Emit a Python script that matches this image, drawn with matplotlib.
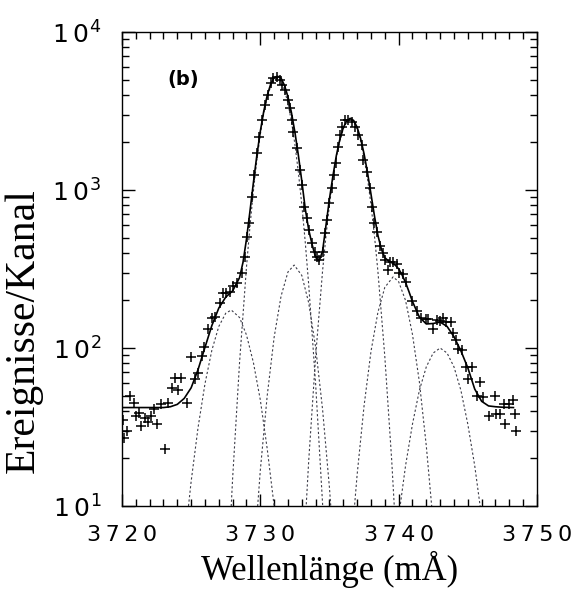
import matplotlib

matplotlib.use("Agg")
import matplotlib.pyplot as plt
import numpy as np
from matplotlib.ticker import FuncFormatter, MultipleLocator, NullFormatter

# --- Messpunkte (+) ---
x_data = [3720.05, 3720.15, 3720.35, 3720.6, 3720.9, 3721.05, 3721.2, 3721.4, 3721.65,
          3721.9, 3722.1, 3722.3, 3722.55, 3722.85, 3723.1, 3723.35, 3723.6, 3723.8,
          3724.05, 3724.3, 3724.7, 3725.0, 3725.3, 3725.5, 3725.75, 3725.95, 3726.25,
          3726.5, 3726.7, 3727.1, 3727.3, 3727.55, 3727.8, 3728.0, 3728.3, 3728.65,
          3728.89, 3729.06, 3729.2, 3729.38, 3729.54, 3729.74, 3729.93, 3730.14, 3730.34,
          3730.53, 3730.75, 3730.94, 3731.18, 3731.42, 3731.6, 3731.78, 3732.02, 3732.15,
          3732.27, 3732.38, 3732.63, 3732.87, 3733.0, 3733.16, 3733.35, 3733.52, 3733.71,
          3733.95, 3734.1, 3734.26, 3734.5, 3734.67, 3734.8, 3734.99, 3735.16, 3735.33,
          3735.47, 3735.6, 3735.76, 3735.93, 3736.12, 3736.36, 3736.6, 3736.84, 3737.08,
          3737.33, 3737.45, 3737.69, 3737.93, 3738.05, 3738.2, 3738.41, 3738.65, 3738.85,
          3739.0, 3739.25, 3739.38, 3739.6, 3739.86, 3740.05, 3740.3, 3740.55, 3740.95,
          3741.3, 3741.63, 3741.95, 3742.15, 3742.45, 3742.75, 3743.0, 3743.2, 3743.46,
          3743.8, 3743.95, 3744.15, 3744.3, 3744.55, 3744.9, 3745.0, 3745.3, 3745.65,
          3745.9, 3746.1, 3746.55, 3747.0, 3747.05, 3747.3, 3747.6, 3747.7, 3747.95,
          3748.25, 3748.4, 3748.5]
y_data = [35, 27, 30, 50, 45, 37, 39, 32, 36,
          34, 37, 41, 33, 44, 23, 45, 56, 65,
          54, 65, 45, 88, 64, 69, 89, 102, 131,
          154, 158, 192, 222, 224, 227, 246, 257, 297,
          378, 506, 615, 907, 1245, 1708, 2157, 2775, 3451,
          3990, 4730, 5090, 5170, 4970, 4650, 4295, 3715, 3290,
          2775, 2340, 1836, 1340, 1077, 784, 661, 558, 460,
          407, 375, 360, 407, 532, 646, 824, 1024, 1245,
          1476, 1862, 2228, 2512, 2775, 2775, 2704, 2512, 2228,
          1928, 1550, 1306, 1024, 784, 620, 540, 440, 400,
          360, 312, 352, 350, 340, 297, 292, 262, 198,
          172, 154, 152, 152, 132, 150, 148, 155, 147,
          147, 124, 112, 98, 97, 76, 64, 76, 50,
          61, 49, 37, 50, 38, 38, 44, 33, 44,
          47, 38, 30]

# --- Gesamtanpassung (durchgezogen) ---
fit_x = [3720.0, 3721.0, 3722.0, 3723.0, 3723.5, 3724.0, 3724.5, 3725.0, 3725.5, 3726.0,
         3726.5, 3727.0, 3727.5, 3728.0, 3728.5, 3728.75, 3729.0, 3729.25, 3729.5, 3729.75,
         3730.0, 3730.25, 3730.5, 3730.75, 3731.0, 3731.25, 3731.5, 3731.75, 3732.0, 3732.25,
         3732.5, 3732.75, 3733.0, 3733.25, 3733.5, 3733.75, 3734.0, 3734.25, 3734.5, 3734.75,
         3735.0, 3735.25, 3735.5, 3735.75, 3736.0, 3736.25, 3736.5, 3736.75, 3737.0, 3737.25,
         3737.5, 3737.75, 3738.0, 3738.25, 3738.5, 3738.75, 3739.0, 3739.25, 3739.5, 3739.75,
         3740.0, 3740.25, 3740.5, 3740.75, 3741.0, 3741.5, 3742.0, 3742.5, 3743.0, 3743.5,
         3744.0, 3744.5, 3745.0, 3745.5, 3746.0, 3746.5, 3747.0, 3747.5, 3748.3]
fit_y = [42, 42, 42, 42, 42.5, 44, 48, 56, 73, 101,
         139, 179, 210, 230, 279, 349, 488, 731, 1111, 1656,
         2350, 3154, 3970, 4677, 5146, 5250, 5101, 4591, 3886, 3092,
         2327, 1663, 1140, 760, 560, 450, 375, 355, 410, 600,
         880, 1229, 1656, 2093, 2480, 2746, 2842, 2755, 2496, 2120,
         1696, 1288, 944, 687, 517, 423, 373, 357, 347, 335,
         317, 290, 260, 227, 197, 157, 142, 143, 146, 137,
         118, 96, 75, 55, 46, 43, 42.5, 42.2, 42]

# --- Einzelkomponenten (gestrichelt) ---
comp_a_x = [3724.5, 3725.0, 3725.5, 3726.0, 3726.5, 3727.0, 3727.5, 3727.9, 3728.5, 3729.0,
            3729.5, 3730.0, 3730.5, 3731.0, 3731.5]
comp_a_y = [5.6, 14.3, 31.4, 59.4, 97, 137, 166, 174, 156, 121,
            81, 47, 23, 10, 3.7]

comp_b_x = [3727.5, 3728.0, 3728.5, 3729.0, 3729.25, 3729.5, 3729.75, 3730.0, 3730.25, 3730.5,
            3730.75, 3731.0, 3731.25, 3731.5, 3731.75, 3732.0, 3732.25, 3732.5, 3732.75, 3733.0,
            3733.25, 3733.5, 3734.0, 3734.5, 3735.0]
comp_b_y = [2.1, 15, 81, 325, 586, 984, 1542, 2244, 3048, 3855,
            4540, 4977, 5093, 4842, 4285, 3540, 2722, 1950, 1300, 807,
            467, 251, 59, 10.4, 1.4]

comp_c_x = [3729.5, 3730.0, 3730.5, 3731.0, 3731.5, 3732.0, 3732.45, 3733.0, 3733.5, 3734.0,
            3734.5, 3735.0, 3735.5]
comp_c_y = [4.3, 16.8, 50, 117, 213, 303, 335, 288, 193, 101,
            41, 13, 3.2]

comp_d_x = [3733.0, 3733.5, 3734.0, 3734.5, 3734.75, 3735.0, 3735.25, 3735.5, 3735.75, 3736.0,
            3736.25, 3736.5, 3736.75, 3737.0, 3737.25, 3737.5, 3737.75, 3738.0, 3738.25, 3738.5,
            3739.0, 3739.5, 3740.0]
comp_d_y = [3.2, 19.4, 88.5, 307, 515, 807, 1180, 1611, 2051, 2438,
            2704, 2800, 2704, 2438, 2051, 1611, 1180, 807, 515, 307,
            88.5, 19.4, 3.2]

comp_e_x = [3736.5, 3737.0, 3737.5, 3738.0, 3738.5, 3739.0, 3739.6, 3740.0, 3740.5, 3741.0,
            3741.5, 3742.0, 3742.5]
comp_e_y = [4.7, 15.8, 43, 95, 168, 242, 282, 263, 200, 122,
            61, 24, 7.8]

comp_f_x = [3740.0, 3740.5, 3741.0, 3741.5, 3742.0, 3742.5, 3743.0, 3743.5, 3744.0, 3744.5,
            3745.0, 3745.5, 3746.0]
comp_f_y = [8.5, 18, 33, 54, 76, 93, 100, 93, 76, 54,
            33, 18, 8.5]

components = [(comp_a_x, comp_a_y), (comp_b_x, comp_b_y), (comp_c_x, comp_c_y),
              (comp_d_x, comp_d_y), (comp_e_x, comp_e_y), (comp_f_x, comp_f_y)]

fig = plt.figure(figsize=(5.8, 5.94), dpi=100)
ax = fig.add_axes([0.2103, 0.1481, 0.7155, 0.798])

for cx, cy in components:
    ax.plot(cx, cy, color="#3c3c48", lw=0.8, ls=(0, (2, 2)))
ax.plot(fit_x, fit_y, color="black", lw=1.2)
ax.plot(x_data, y_data, "+", color="black", ms=7, mew=1.1)

ax.set_yscale("log")
ax.set_xlim(3720, 3750)
ax.set_ylim(10, 1e4)

ax.xaxis.set_major_locator(MultipleLocator(10))
ax.xaxis.set_minor_locator(MultipleLocator(1))
ax.xaxis.set_major_formatter(FuncFormatter(lambda v, p: "\u2009".join(f"{v:.0f}")))
ax.yaxis.set_major_formatter(FuncFormatter(lambda v, p: "1\u20090$^{%d}$" % round(np.log10(v))))
ax.yaxis.set_minor_formatter(NullFormatter())

ax.tick_params(which="both", direction="in", top=True, right=True, width=1.0)
ax.tick_params(which="major", length=9)
ax.tick_params(which="minor", length=5)
ax.tick_params(axis="x", pad=14, labelsize=16)
ax.tick_params(axis="y", pad=15, labelsize=18)
for s in ax.spines.values():
    s.set_linewidth(1.0)

ax.set_xlabel("Wellenlänge (mÅ)", family="Liberation Serif", fontsize=25, labelpad=4)
ax.set_ylabel("Ereignisse/Kanal", family="Liberation Serif", fontsize=30)
ax.yaxis.set_label_coords(-0.19, 0.37)

ax.text(0.11, 0.9, "(b)", transform=ax.transAxes, fontsize=14, fontweight="bold",
        ha="left", va="center")

fig.savefig("out.png", dpi=100)
